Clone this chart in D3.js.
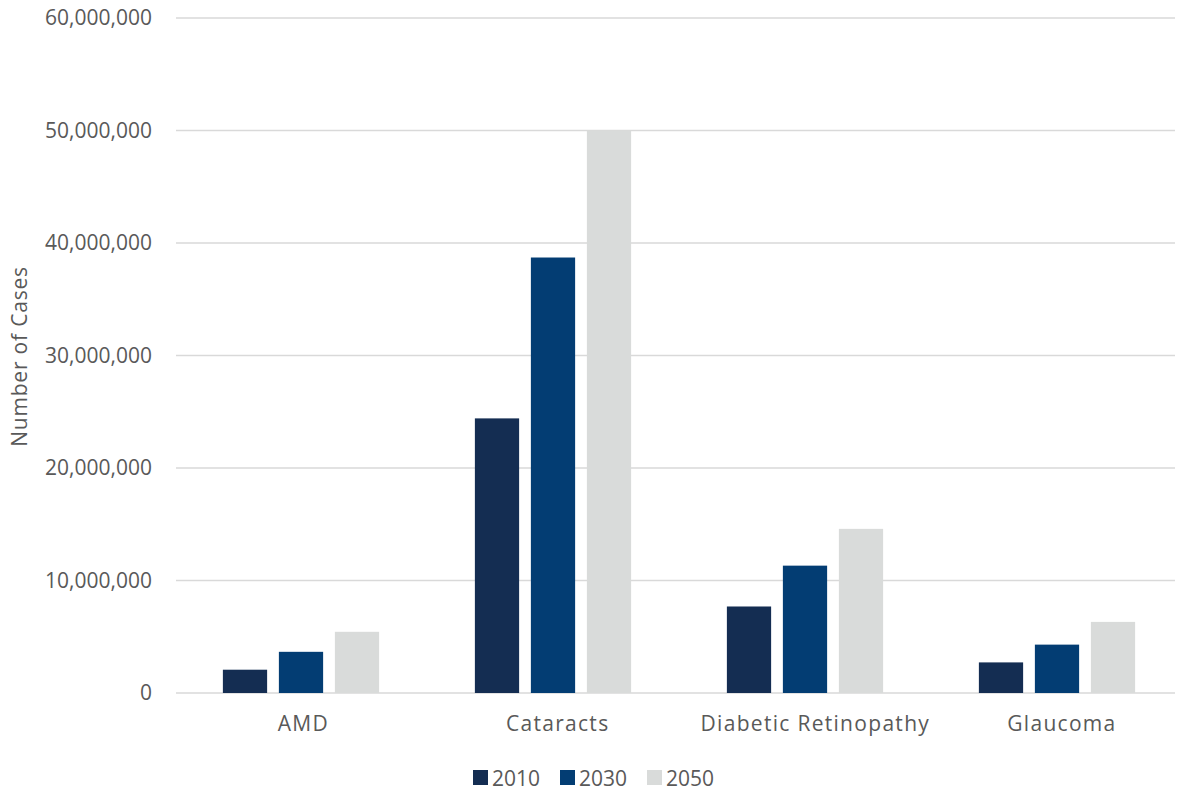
<!DOCTYPE html>
<html>
<head>
<meta charset="utf-8">
<script src="https://cdn.jsdelivr.net/npm/d3@7"></script>
<style>
  html, body { margin: 0; padding: 0; background: #fff; }
  svg text { font-family: "Open Sans", sans-serif; fill: #595959; }
</style>
</head>
<body>
<svg id="chart" width="1177" height="791"></svg>
<script>
// Eye disease cases by year
const categories = ["AMD", "Cataracts", "Diabetic Retinopathy", "Glaucoma"];
const years = ["2010", "2030", "2050"];
const cases2010 = [2070000, 24410000, 7690000, 2720000];
const cases2030 = [3660000, 38710000, 11320000, 4300000];
const cases2050 = [5440000, 50000000, 14590000, 6320000];
const yTicks = [0, 10000000, 20000000, 30000000, 40000000, 50000000, 60000000];
const colors = ["#142d52", "#033d73", "#d9dbda"];

const series = [cases2010, cases2030, cases2050];

const svg = d3.select("#chart");
const W = 1177, H = 791;
const plotLeft = 176, plotRight = 1175, plotTop = 18, plotBottom = 693;
const fontSize = "21px";

const y = d3.scaleLinear().domain([0, 60000000]).range([plotBottom, plotTop]);
const x0 = d3.scaleBand().domain(categories).range([175, 1183]).paddingInner(0.38).paddingOuter(0.19);
const x1 = d3.scaleBand().domain(years).range([0, x0.bandwidth()]).paddingInner(0.21);

// gridlines
svg.append("g")
  .selectAll("line")
  .data(yTicks)
  .join("line")
  .attr("x1", plotLeft)
  .attr("x2", plotRight)
  .attr("y1", d => y(d))
  .attr("y2", d => y(d))
  .attr("stroke", "#d9d9d9")
  .attr("stroke-width", 1.5);

// y axis labels
const yAxis = d3.axisLeft(y).tickValues(yTicks).tickFormat(d3.format(",")).tickSize(0).tickPadding(24);
const gy = svg.append("g").attr("transform", `translate(${plotLeft},0)`).call(yAxis);
gy.select(".domain").remove();
gy.selectAll("text").style("font-size", fontSize).attr("fill", "#595959");

// bars
const groups = svg.append("g")
  .selectAll("g")
  .data(categories)
  .join("g")
  .attr("transform", d => `translate(${x0(d)},0)`);

groups.selectAll("rect")
  .data((d, i) => years.map((yr, j) => ({ yr, v: series[j][i], j })))
  .join("rect")
  .attr("x", d => x1(d.yr))
  .attr("width", x1.bandwidth())
  .attr("y", d => y(d.v))
  .attr("height", d => y(0) - y(d.v))
  .attr("fill", d => colors[d.j]);

// x axis labels (spaced-out text sits slightly right of the group centre)
const xAxis = d3.axisBottom(x0).tickSize(0).tickPadding(23);
const gx = svg.append("g").attr("transform", `translate(0,${y(0)})`).call(xAxis);
gx.select(".domain").remove();
gx.selectAll("text")
  .style("font-size", fontSize)
  .attr("fill", "#595959")
  .style("letter-spacing", "1.3px")
  .attr("dx", function () { return this.getComputedTextLength() * 0.045; });

// y axis title
svg.append("text")
  .attr("transform", `translate(27,${(y(0) + y(60000000)) / 2 + 1}) rotate(-90)`)
  .attr("text-anchor", "middle")
  .style("font-size", fontSize)
  .style("letter-spacing", "0.8px")
  .text("Number of Cases");

// legend
const legendX = [473, 560, 647];
const legend = svg.append("g")
  .selectAll("g")
  .data(years)
  .join("g")
  .attr("transform", (d, i) => `translate(${legendX[i]},770)`);
legend.append("rect").attr("width", 15).attr("height", 15).attr("fill", (d, i) => colors[i]);
legend.append("text").attr("x", 19).attr("y", 15.5).style("font-size", fontSize).text(d => d);
</script>
</body>
</html>
